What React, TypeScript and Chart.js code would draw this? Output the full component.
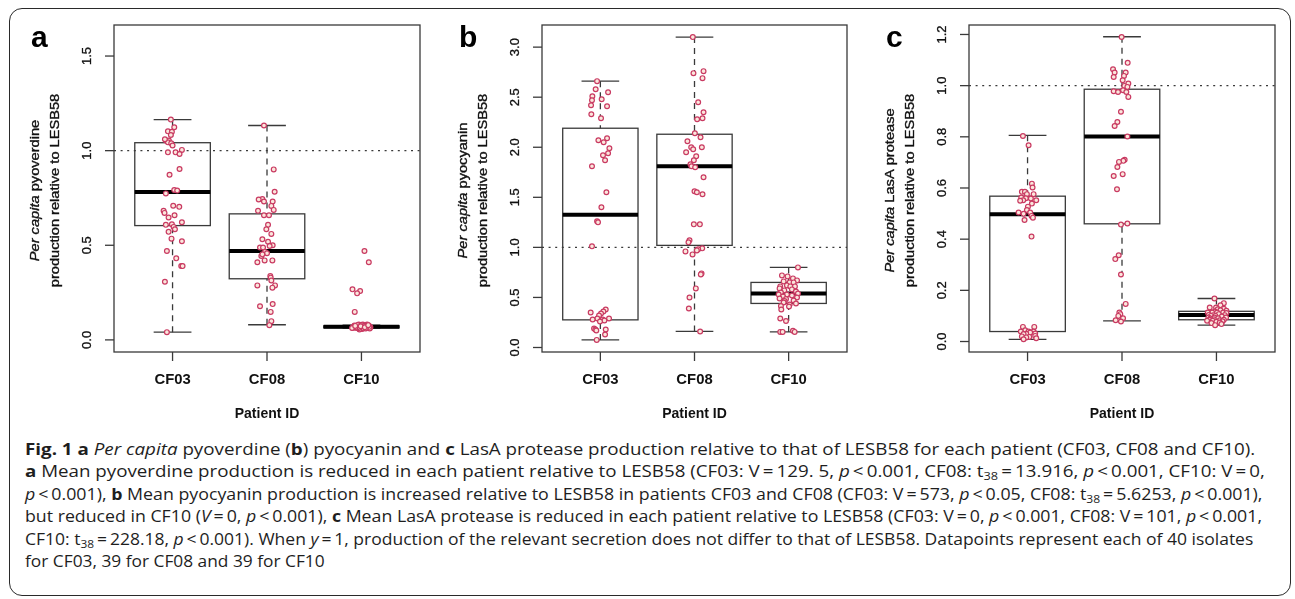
import React, { useEffect, useLayoutEffect, useRef } from 'react';
import { Chart, registerables } from 'chart.js';

Chart.register(...registerables);

// ---------------- data ----------------
const categories = ['CF03', 'CF08', 'CF10'];
const xAxisTitle = 'Patient ID';
const refLineValue = 1;

// Panel a: pyoverdine
const aTicks = [0, 0.5, 1.0, 1.5];
const aTickLabels = ['0.0', '0.5', '1.0', '1.5'];
const aYRange = [-0.064, 1.664];
const aLow = [0.041, 0.080, 0.062];
const aQ1 = [0.604, 0.323, 0.064];
const aMedian = [0.781, 0.470, 0.069];
const aQ3 = [1.042, 0.666, 0.074];
const aHigh = [1.164, 1.133, 0.078];
const aCF03 = [1.164, 1.124, 1.102, 1.100, 1.083, 1.053, 1.053, 1.044, 1.039, 1.027, 1.004, 0.991, 0.991, 0.982, 0.903, 0.873, 0.792, 0.789, 0.774, 0.709, 0.703, 0.682, 0.671, 0.659, 0.647, 0.622, 0.611, 0.608, 0.597, 0.585, 0.571, 0.535, 0.521, 0.470, 0.431, 0.390, 0.390, 0.307, 0.041, 1.060];
const aCF03Jit = [-0.018, 0.018, -0.049, -0.007, -0.018, -0.071, -0.039, -0.049, -0.014, 0, 0.099, -0.049, 0.032, 0.074, 0.074, -0.032, 0.018, 0.049, -0.071, 0.007, 0.071, -0.095, -0.085, 0.021, -0.042, 0.099, -0.007, -0.071, 0.011, 0.025, -0.042, -0.011, 0.099, -0.060, 0.039, 0.092, 0.106, -0.081, -0.060, -0.081];
const aCF08 = [1.133, 0.901, 0.783, 0.744, 0.742, 0.731, 0.731, 0.708, 0.687, 0.682, 0.659, 0.659, 0.608, 0.585, 0.560, 0.532, 0.519, 0.500, 0.496, 0.488, 0.488, 0.465, 0.458, 0.443, 0.420, 0.420, 0.410, 0.337, 0.329, 0.314, 0.288, 0.288, 0.276, 0.189, 0.178, 0.148, 0.099, 0.078, 0.452];
const aCF08Jit = [-0.032, 0.071, 0.081, -0.049, -0.088, -0.032, 0.060, 0.046, 0.071, -0.095, -0.032, 0.021, 0.011, -0.007, 0.046, -0.049, 0.011, 0.060, 0.028, -0.074, -0.042, -0.021, 0, -0.060, -0.025, 0.057, -0.102, 0.035, 0.039, 0.046, 0.085, -0.102, 0.057, 0.060, -0.074, 0.039, 0.046, 0.025, -0.049];
const aCF10 = [0.470, 0.410, 0.267, 0.258, 0.246, 0.148, 0.064, 0.064, 0.072, 0.081, 0.064, 0.058, 0.067, 0.072, 0.081, 0.076, 0.067, 0.076, 0.081, 0.055, 0.070, 0.062, 0.075, 0.068, 0.060, 0.073, 0.066, 0.079, 0.061, 0.071, 0.063, 0.077, 0.069, 0.065, 0.074, 0.060, 0.072, 0.067, 0.078];
const aCF10Jit = [0.032, 0.078, -0.095, -0.014, -0.046, -0.071, -0.092, -0.064, -0.046, -0.028, -0.011, 0.007, 0.025, 0.042, 0.060, 0.078, 0.095, -0.074, 0.014, -0.021, -0.085, -0.035, -0.002, 0.050, 0.088, 0.030, -0.056, -0.040, 0.018, 0.068, -0.099, 0.004, 0.084, -0.018, -0.066, 0.045, -0.008, 0.036, 0.072];

// Panel b: pyocyanin
const bTicks = [0, 0.5, 1.0, 1.5, 2.0, 2.5, 3.0];
const bTickLabels = ['0.0', '0.5', '1.0', '1.5', '2.0', '2.5', '3.0'];
const bYRange = [-0.045, 3.221];
const bLow = [0.076, 0.16, 0.156];
const bQ1 = [0.276, 1.02, 0.44];
const bMedian = [1.325, 1.81, 0.54];
const bQ3 = [2.19, 2.13, 0.65];
const bHigh = [2.66, 3.10, 0.80];
const bCF03 = [2.66, 2.58, 2.55, 2.51, 2.48, 2.47, 2.42, 2.41, 2.33, 2.29, 2.09, 2.07, 2.05, 1.99, 1.94, 1.92, 1.87, 1.81, 1.55, 1.40, 1.26, 1.25, 1.01, 0.38, 0.36, 0.35, 0.34, 0.32, 0.29, 0.29, 0.28, 0.28, 0.27, 0.26, 0.19, 0.18, 0.18, 0.17, 0.13, 0.076];
const bCF03Jit = [-0.035, -0.050, 0.082, -0.085, 0.014, -0.089, -0.099, 0.071, -0.096, 0.007, 0.071, -0.021, 0.035, 0.096, 0.082, 0.028, 0.050, -0.089, 0.064, 0.011, -0.035, -0.025, -0.089, 0.057, 0.032, -0.103, 0.007, -0.014, -0.032, 0.092, -0.082, 0.025, 0.043, -0.004, -0.067, -0.053, 0.057, -0.043, 0.050, -0.039];
const bCF08 = [3.10, 2.76, 2.74, 2.69, 2.45, 2.35, 2.29, 2.28, 2.14, 2.10, 2.06, 2.00, 2.00, 1.98, 1.95, 1.91, 1.87, 1.83, 1.81, 1.80, 1.70, 1.56, 1.55, 1.53, 1.23, 1.23, 1.07, 1.05, 0.99, 0.98, 0.96, 0.93, 0.74, 0.73, 0.59, 0.50, 0.39, 0.16, 0.97];
const bCF08Jit = [-0.018, 0.096, -0.011, 0.085, 0.039, 0.096, 0.085, 0.028, 0.004, 0.064, -0.075, 0.078, -0.035, -0.014, -0.089, 0.018, -0.007, -0.043, -0.032, 0.007, 0.096, 0, 0.025, 0.085, -0.007, 0.057, -0.053, -0.064, 0.082, 0.039, -0.096, -0.021, 0.075, 0.067, 0.014, -0.053, -0.060, 0.060, 0.025];
const bCF10 = [0.80, 0.72, 0.71, 0.69, 0.67, 0.66, 0.65, 0.65, 0.62, 0.61, 0.61, 0.61, 0.59, 0.58, 0.57, 0.56, 0.55, 0.54, 0.53, 0.53, 0.52, 0.51, 0.50, 0.49, 0.485, 0.47, 0.465, 0.45, 0.44, 0.43, 0.415, 0.41, 0.38, 0.29, 0.265, 0.166, 0.156, 0.156, 0.156];
const bCF10Jit = [0.099, -0.071, -0.011, 0.046, 0.089, -0.053, 0.011, 0.053, -0.018, -0.089, 0.018, 0.067, -0.096, 0.035, -0.046, 0.078, -0.082, 0.099, -0.018, -0.106, 0.035, -0.060, 0.089, -0.096, -0.028, 0.053, -0.043, -0.053, 0.078, 0.011, -0.082, 0.004, -0.078, -0.089, -0.028, 0.046, -0.089, -0.064, 0.064];

// Panel c: LasA protease
const cTicks = [0, 0.2, 0.4, 0.6, 0.8, 1.0, 1.2];
const cTickLabels = ['0.0', '0.2', '0.4', '0.6', '0.8', '1.0', '1.2'];
const cYRange = [-0.041, 1.237];
const cLow = [0.008, 0.081, 0.064];
const cQ1 = [0.039, 0.460, 0.085];
const cMedian = [0.497, 0.801, 0.104];
const cQ3 = [0.568, 0.986, 0.118];
const cHigh = [0.806, 1.191, 0.168];
const cCF03 = [0.803, 0.767, 0.617, 0.602, 0.585, 0.585, 0.576, 0.576, 0.563, 0.560, 0.559, 0.552, 0.552, 0.550, 0.539, 0.527, 0.514, 0.504, 0.504, 0.499, 0.491, 0.484, 0.475, 0.410, 0.057, 0.057, 0.044, 0.039, 0.039, 0.039, 0.035, 0.031, 0.030, 0.029, 0.022, 0.020, 0.018, 0.016, 0.013, 0.009];
const cCF03Jit = [-0.049, 0.011, 0.046, 0.053, -0.060, -0.028, 0.064, -0.007, -0.067, -0.018, 0.035, 0.092, -0.046, -0.078, 0.046, 0.004, -0.007, -0.095, 0.028, -0.042, 0.042, 0.057, -0.032, 0.042, -0.049, 0.071, -0.025, -0.071, 0.011, 0.064, 0.028, 0.081, -0.014, -0.042, 0.081, -0.060, 0.018, -0.014, 0.092, -0.042];
const cCF08 = [1.190, 1.089, 1.064, 1.051, 1.051, 1.038, 1.034, 1.021, 1.008, 0.999, 0.995, 0.982, 0.978, 0.975, 0.975, 0.956, 0.898, 0.858, 0.842, 0.801, 0.710, 0.706, 0.702, 0.682, 0.654, 0.647, 0.595, 0.461, 0.457, 0.337, 0.322, 0.262, 0.147, 0.113, 0.107, 0.100, 0.091, 0.083, 0.078];
const cCF08Jit = [-0.004, 0.060, -0.095, -0.078, 0.039, 0.021, -0.088, 0.007, 0.067, 0.025, 0.057, 0.011, -0.088, 0.046, -0.042, 0.067, -0.011, -0.049, -0.078, 0.057, 0.028, 0.014, -0.032, -0.049, 0.007, -0.088, -0.053, 0.057, -0.011, -0.035, -0.071, -0.011, 0.039, -0.028, -0.018, -0.039, 0.011, -0.067, -0.011];
const cCF10 = [0.168, 0.150, 0.142, 0.133, 0.133, 0.128, 0.126, 0.122, 0.120, 0.117, 0.113, 0.113, 0.113, 0.113, 0.111, 0.107, 0.104, 0.103, 0.103, 0.100, 0.100, 0.098, 0.094, 0.094, 0.094, 0.091, 0.090, 0.087, 0.085, 0.085, 0.083, 0.081, 0.081, 0.079, 0.077, 0.074, 0.072, 0.068, 0.064];
const cCF10Jit = [-0.021, 0.078, 0.042, -0.071, -0.004, 0.078, 0.014, 0.042, 0.106, -0.018, -0.046, 0.071, 0.007, -0.092, 0.106, 0.025, -0.081, -0.035, 0.088, -0.011, -0.057, 0.057, 0.102, -0.085, -0.021, 0.018, -0.064, -0.028, 0.078, -0.074, 0.035, -0.099, -0.039, 0.064, 0, 0.035, -0.053, 0.053, -0.014];

// ---------------- panels ----------------
const panels = [
  {
    letter: 'a', left: 12, pad: { left: 102, right: 12, top: 15, bottom: 73 },
    titleItalic: 'Per capita', titleRest: ' pyoverdine', title2: 'production relative to LESB58',
    ticks: aTicks, tickLabels: aTickLabels, yRange: aYRange,
    low: aLow, q1: aQ1, med: aMedian, q3: aQ3, high: aHigh,
    values: [aCF03, aCF08, aCF10], jitter: [aCF03Jit, aCF08Jit, aCF10Jit],
  },
  {
    letter: 'b', left: 440, pad: { left: 102, right: 13, top: 15, bottom: 73 },
    titleItalic: 'Per capita', titleRest: ' pyocyanin', title2: 'production relative to LESB58',
    ticks: bTicks, tickLabels: bTickLabels, yRange: bYRange,
    low: bLow, q1: bQ1, med: bMedian, q3: bQ3, high: bHigh,
    values: [bCF03, bCF08, bCF10], jitter: [bCF03Jit, bCF08Jit, bCF10Jit],
  },
  {
    letter: 'c', left: 868, pad: { left: 101, right: 13, top: 15, bottom: 73 },
    titleItalic: 'Per capita', titleRest: ' LasA protease', title2: 'production relative to LESB58',
    ticks: cTicks, tickLabels: cTickLabels, yRange: cYRange,
    low: cLow, q1: cQ1, med: cMedian, q3: cQ3, high: cHigh,
    values: [cCF03, cCF08, cCF10], jitter: [cCF03Jit, cCF08Jit, cCF10Jit],
  },
];

const FONT = '"Liberation Sans", Arial, Helvetica, sans-serif';
const LINE = '#3a3a3a';

function line(ctx, x1, y1, x2, y2) {
  ctx.beginPath();
  ctx.moveTo(x1, y1);
  ctx.lineTo(x2, y2);
  ctx.stroke();
}

// draw text with slight horizontal stretch and a faint outline for R-like weight
function heavyText(ctx, text, x, y, sx, sw) {
  ctx.save();
  ctx.translate(x, y);
  ctx.scale(sx, 1);
  ctx.fillText(text, 0, 0);
  if (sw > 0) {
    ctx.lineWidth = sw;
    ctx.strokeStyle = ctx.fillStyle;
    ctx.strokeText(text, 0, 0);
  }
  ctx.restore();
}

function Panel({ p }) {
  const ref = useRef(null);
  useEffect(() => {
    const points = [];
    p.values.forEach((vals, i) => vals.forEach((v, k) => points.push({ x: i + 1 + p.jitter[i][k], y: v })));
    const plugin = {
      id: 'rbox_' + p.letter,
      beforeDatasetsDraw(chart) {
        const { ctx, chartArea: ca } = chart;
        const x = chart.scales.x, y = chart.scales.y;
        ctx.save();
        ctx.lineCap = 'butt';
        for (let i = 0; i < categories.length; i++) {
          const c = i + 1;
          const cx = x.getPixelForValue(c);
          const xl = x.getPixelForValue(c - 0.4), xr = x.getPixelForValue(c + 0.4);
          const sl = x.getPixelForValue(c - 0.2), sr = x.getPixelForValue(c + 0.2);
          const yLo = y.getPixelForValue(p.low[i]);
          const yQ1 = y.getPixelForValue(p.q1[i]);
          const yMed = y.getPixelForValue(p.med[i]);
          const yQ3 = y.getPixelForValue(p.q3[i]);
          const yHi = y.getPixelForValue(p.high[i]);
          ctx.strokeStyle = LINE;
          ctx.lineWidth = 1.3;
          ctx.setLineDash([6, 5]);
          line(ctx, cx, yHi, cx, yQ3);
          line(ctx, cx, yLo, cx, yQ1);
          ctx.setLineDash([]);
          line(ctx, sl, yHi, sr, yHi);
          line(ctx, sl, yLo, sr, yLo);
          ctx.strokeRect(xl, yQ3, xr - xl, yQ1 - yQ3);
          ctx.strokeStyle = '#000';
          ctx.lineWidth = 4;
          line(ctx, xl, yMed, xr, yMed);
        }
        // reference line at y = 1
        ctx.strokeStyle = LINE;
        ctx.lineWidth = 1.3;
        ctx.setLineDash([2, 4.6]);
        const yr = y.getPixelForValue(refLineValue);
        line(ctx, ca.left, yr, ca.right, yr);
        ctx.restore();
      },
      afterDraw(chart) {
        const { ctx, chartArea: ca } = chart;
        const x = chart.scales.x, y = chart.scales.y;
        ctx.save();
        ctx.strokeStyle = LINE;
        ctx.lineWidth = 1.3;
        ctx.setLineDash([]);
        ctx.strokeRect(ca.left, ca.top, ca.right - ca.left, ca.bottom - ca.top);
        ctx.fillStyle = '#111';
        // y ticks
        ctx.font = `12px ${FONT}`;
        ctx.textAlign = 'center';
        ctx.textBaseline = 'middle';
        p.ticks.forEach((v, k) => {
          const py = y.getPixelForValue(v);
          ctx.strokeStyle = LINE;
          ctx.lineWidth = 1.3;
          line(ctx, ca.left - 9, py, ca.left, py);
          ctx.save();
          ctx.translate(ca.left - 26, py);
          ctx.rotate(-Math.PI / 2);
          heavyText(ctx, p.tickLabels[k], 0, 0, 1.08, 0.3);
          ctx.restore();
        });
        // x ticks
        ctx.font = `bold 14px ${FONT}`;
        categories.forEach((cat, i) => {
          const px = x.getPixelForValue(i + 1);
          ctx.strokeStyle = LINE;
          ctx.lineWidth = 1.3;
          line(ctx, px, ca.bottom, px, ca.bottom + 9);
          heavyText(ctx, cat, px, ca.bottom + 28, 1.06, 0);
        });
        heavyText(ctx, xAxisTitle, (ca.left + ca.right) / 2, ca.bottom + 62, 1.0, 0);
        // y title
        const cy = (ca.top + ca.bottom) / 2 + 2;
        const sx = 1.17;
        ctx.save();
        ctx.translate(ca.left - 78, cy);
        ctx.rotate(-Math.PI / 2);
        ctx.scale(sx, 1);
        ctx.textAlign = 'left';
        ctx.font = `italic 12.5px ${FONT}`;
        const wi = ctx.measureText(p.titleItalic).width;
        ctx.font = `12.5px ${FONT}`;
        const wr = ctx.measureText(p.titleRest).width;
        const start = -(wi + wr) / 2;
        ctx.strokeStyle = '#111';
        ctx.lineWidth = 0.35;
        ctx.font = `italic 12.5px ${FONT}`;
        ctx.fillText(p.titleItalic, start, 0);
        ctx.strokeText(p.titleItalic, start, 0);
        ctx.font = `12.5px ${FONT}`;
        ctx.fillText(p.titleRest, start + wi, 0);
        ctx.strokeText(p.titleRest, start + wi, 0);
        ctx.textAlign = 'center';
        ctx.fillText(p.title2, 0, 20);
        ctx.strokeText(p.title2, 0, 20);
        ctx.restore();
        // panel letter
        ctx.fillStyle = '#000';
        ctx.font = `bold 30px ${FONT}`;
        ctx.textAlign = 'left';
        ctx.textBaseline = 'alphabetic';
        ctx.fillText(p.letter, ca.left - 83, ca.top + 22);
        ctx.restore();
      },
    };
    const chart = new Chart(ref.current, {
      type: 'scatter',
      data: {
        datasets: [{
          data: points,
          pointRadius: 2.4,
          pointHoverRadius: 2.4,
          pointBorderWidth: 1.2,
          pointBackgroundColor: '#fbe6dc',
          pointBorderColor: '#c93a62',
          backgroundColor: '#fbe6dc',
          borderColor: '#c93a62',
        }],
      },
      options: {
        animation: false,
        responsive: false,
        events: [],
        layout: { padding: p.pad },
        scales: {
          x: { type: 'linear', min: 0.38, max: 3.62, display: false },
          y: { type: 'linear', min: p.yRange[0], max: p.yRange[1], display: false },
        },
        plugins: { legend: { display: false }, tooltip: { enabled: false } },
      },
      plugins: [plugin],
    });
    return () => chart.destroy();
  }, []);
  return (
    <canvas
      ref={ref}
      width={420}
      height={415}
      style={{ position: 'absolute', left: p.left, top: 10, width: 420, height: 415, display: 'block' }}
    />
  );
}

// ---------------- caption ----------------
const T = '\u2009';
const captionLines = [
  [['b', 'Fig. 1 a'], ['', ' '], ['i', 'Per capita'], ['', ' pyoverdine ('], ['b', 'b'], ['', ') pyocyanin and '], ['b', 'c'], ['', ' LasA protease production relative to that of LESB58 for each patient (CF03, CF08 and CF10).']],
  [['b', 'a'], ['', ` Mean pyoverdine production is reduced in each patient relative to LESB58 (CF03: V${T}=${T}129. 5, `], ['i', 'p'], ['', `${T}<${T}0.001, CF08: t`], ['s', '38'], ['', `${T}=${T}13.916, `], ['i', 'p'], ['', `${T}<${T}0.001, CF10: V${T}=${T}0,`]],
  [['i', 'p'], ['', `${T}<${T}0.001), `], ['b', 'b'], ['', ` Mean pyocyanin production is increased relative to LESB58 in patients CF03 and CF08 (CF03: V${T}=${T}573, `], ['i', 'p'], ['', `${T}<${T}0.05, CF08: t`], ['s', '38'], ['', `${T}=${T}5.6253, `], ['i', 'p'], ['', `${T}<${T}0.001),`]],
  [['', 'but reduced in CF10 ('], ['i', 'V'], ['', `${T}=${T}0, `], ['i', 'p'], ['', `${T}<${T}0.001), `], ['b', 'c'], ['', ` Mean LasA protease is reduced in each patient relative to LESB58 (CF03: V${T}=${T}0, `], ['i', 'p'], ['', `${T}<${T}0.001, CF08: V${T}=${T}101, `], ['i', 'p'], ['', `${T}<${T}0.001,`]],
  [['', 'CF10: t'], ['s', '38'], ['', `${T}=${T}228.18, `], ['i', 'p'], ['', `${T}<${T}0.001). When `], ['i', 'y'], ['', `${T}=${T}1, production of the relevant secretion does not differ to that of LESB58. Datapoints represent each of 40 isolates`]],
  [['', 'for CF03, 39 for CF08 and 39 for CF10']],
];
const captionWidths = [1230, 1240, 1237, 1237, 1228, 300];

function Caption() {
  const refs = useRef([]);
  useLayoutEffect(() => {
    const fit = () => {
      refs.current.forEach((el, i) => {
        if (!el) return;
        el.style.transform = 'none';
        const w = el.offsetWidth;
        if (w > 0) el.style.transform = `scaleX(${captionWidths[i] / w})`;
      });
    };
    fit();
    if (document.fonts && document.fonts.ready) document.fonts.ready.then(fit);
  }, []);
  return (
    <>
      {captionLines.map((segs, i) => (
        <div
          key={i}
          ref={(el) => { refs.current[i] = el; }}
          style={{
            position: 'absolute', left: 25, top: 437.5 + i * 22.5, whiteSpace: 'nowrap',
            fontFamily: '"Open Sans", "Noto Sans", sans-serif', fontSize: 16.5, lineHeight: '22.5px',
            color: '#1e1e1e', transformOrigin: '0 0', display: 'inline-block',
          }}
        >
          {segs.map(([s, t], k) => {
            if (s === 'b') return <b key={k}>{t}</b>;
            if (s === 'i') return <i key={k}>{t}</i>;
            if (s === 's') return <span key={k} style={{ fontSize: '0.68em', verticalAlign: '-0.3em', lineHeight: 0 }}>{t}</span>;
            return <span key={k}>{t}</span>;
          })}
        </div>
      ))}
    </>
  );
}

export default function App() {
  return (
    <div style={{ position: 'absolute', left: 0, top: 0, width: 1295, height: 599, overflow: 'hidden', background: '#fff' }}>
      <div style={{ position: 'absolute', left: 9, top: 8, width: 1282, height: 588, boxSizing: 'border-box', border: '1.6px solid #2a2a2a', borderRadius: 13 }} />
      {panels.map((p) => <Panel key={p.letter} p={p} />)}
      <Caption />
    </div>
  );
}
